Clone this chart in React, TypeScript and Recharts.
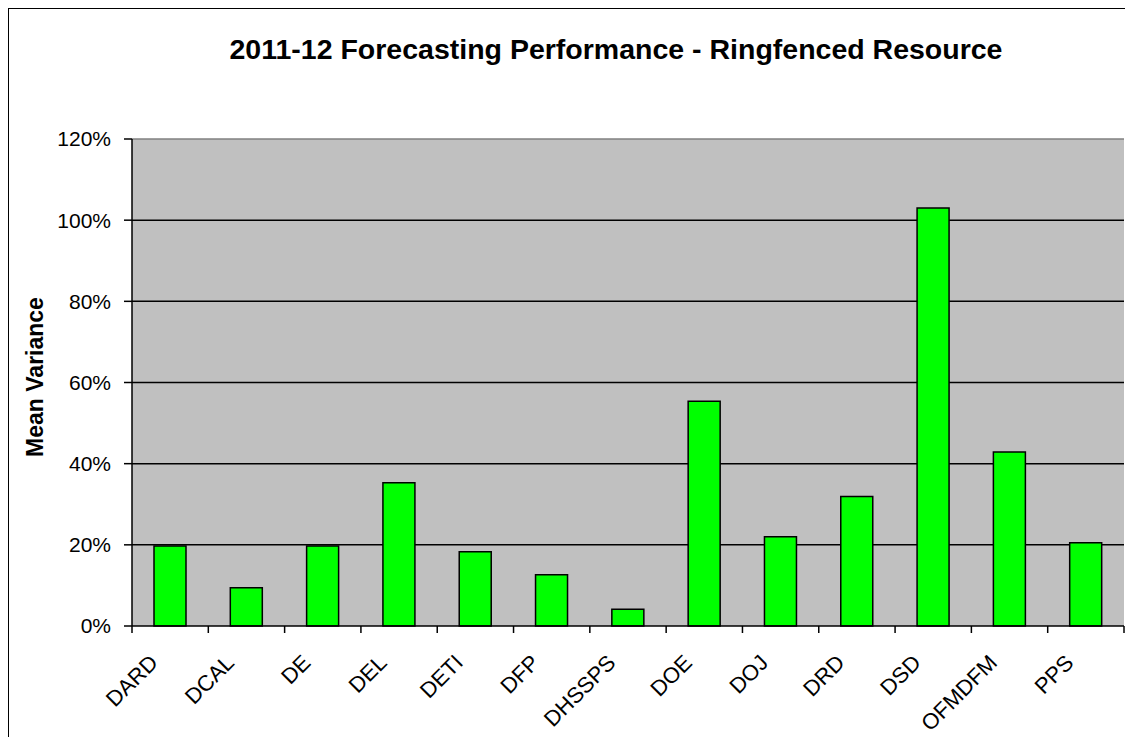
import React from 'react';
import { BarChart, Bar, XAxis, YAxis, CartesianGrid, ReferenceLine } from 'recharts';

// Mean variance (%) per department
const categories = ['DARD', 'DCAL', 'DE', 'DEL', 'DETI', 'DFP', 'DHSSPS', 'DOE', 'DOJ', 'DRD', 'DSD', 'OFMDFM', 'PPS'];
const meanVariance = [19.7, 9.4, 19.7, 35.3, 18.3, 12.6, 4.1, 55.4, 22.0, 31.9, 103.0, 42.9, 20.5];
const yTicks = [0, 20, 40, 60, 80, 100, 120];
const gridValues = [20, 40, 60, 80, 100];

const FONT = 'Arial, "Liberation Sans", sans-serif';
const W = 1126;
const H = 730;
const MARGIN = { top: 132, right: 9, bottom: 0, left: 0 };
const Y_AXIS_W = 125;
const X_AXIS_H = 111;
const BAND = (W - Y_AXIS_W - MARGIN.right) / categories.length;

const data = categories.map((name, i) => ({ name, value: meanVariance[i] }));

function XTick(props: any) {
  const { x, y, payload, index } = props;
  const left = x - BAND / 2;
  const lx = x - 11;
  const ly = y + 38;
  return (
    <g>
      <line x1={left} y1={y} x2={left} y2={y + 7} stroke="#000" strokeWidth={1.5} />
      {index === categories.length - 1 && (
        <line x1={x + BAND / 2} y1={y} x2={x + BAND / 2} y2={y + 7} stroke="#000" strokeWidth={1.5} />
      )}
      <text
        x={lx}
        y={ly}
        textAnchor="end"
        fontSize={22}
        fontFamily={FONT}
        fill="#000"
        transform={`rotate(-45, ${lx}, ${ly})`}
      >
        {payload.value}
      </text>
    </g>
  );
}

export default function App() {
  return (
    <div
      style={{
        position: 'relative',
        width: W,
        height: H,
        margin: '-1px 0 0 -1px',
        boxSizing: 'border-box',
        borderLeft: '2px solid #000',
        borderTop: '2px solid #000',
        overflow: 'hidden',
        background: '#fff',
      }}
    >
      <style>{'html,body{overflow:hidden}'}</style>
      <div style={{ position: 'absolute', left: -2, top: -2 }}>
        <BarChart width={W} height={H} data={data} margin={MARGIN} barSize={32}>
          <CartesianGrid
            vertical={false}
            horizontalValues={gridValues}
            fill="#C0C0C0"
            fillOpacity={1}
            stroke="#000"
            strokeWidth={1.5}
          />
          <XAxis
            dataKey="name"
            height={X_AXIS_H}
            interval={0}
            tickLine={false}
            tickSize={0}
            tickMargin={0}
            axisLine={{ stroke: '#000', strokeWidth: 1.5 }}
            tick={<XTick />}
          />
          <YAxis
            width={Y_AXIS_W}
            domain={[0, 120]}
            ticks={yTicks}
            interval={0}
            tickFormatter={(v: number) => `${v}%`}
            tickSize={8}
            tickMargin={13}
            tickLine={{ stroke: '#000', strokeWidth: 1.5 }}
            axisLine={{ stroke: '#000', strokeWidth: 1.5 }}
            tick={{ fill: '#000', fontSize: 21, fontFamily: FONT }}
          />
          <YAxis
            yAxisId="right"
            orientation="right"
            width={0}
            domain={[0, 120]}
            tick={false}
            tickLine={false}
            axisLine={{ stroke: '#808080', strokeWidth: 1.5 }}
          />
          <ReferenceLine y={120} stroke="#808080" strokeWidth={1.5} />
          <Bar dataKey="value" fill="#00FF00" stroke="#000" strokeWidth={1.5} isAnimationActive={false} />
        </BarChart>
        <svg
          width={W}
          height={H}
          style={{ position: 'absolute', left: 0, top: 0, pointerEvents: 'none' }}
        >
          <text x={609} y={52} textAnchor="middle" fontSize={28.5} fontWeight="bold" fontFamily={FONT} fill="#000">
            2011-12 Forecasting Performance - Ringfenced Resource
          </text>
          <text
            x={36}
            y={370}
            textAnchor="middle"
            fontSize={23}
            fontWeight="bold"
            fontFamily={FONT}
            fill="#000"
            transform="rotate(-90, 36, 370)"
          >
            Mean Variance
          </text>
        </svg>
      </div>
    </div>
  );
}
